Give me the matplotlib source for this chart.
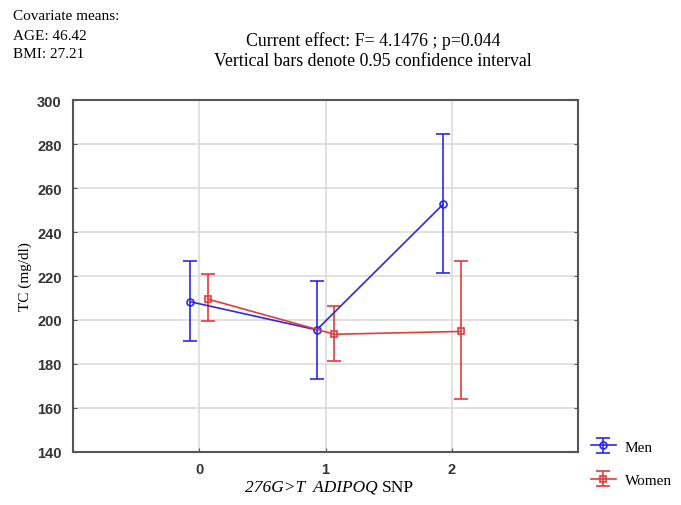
import matplotlib.pyplot as plt
import numpy as np

plt.rcParams['font.family'] = ['Liberation Serif', 'DejaVu Serif']

genotypes = [0, 1, 2]
men_mean = [208.3, 195.5, 252.6]
men_low = [190.3, 173.0, 221.2]
men_high = [226.7, 217.7, 284.8]
women_mean = [209.5, 193.5, 194.8]
women_low = [199.4, 181.5, 164.2]
women_high = [220.9, 206.4, 226.7]

blue = '#2a2ae6'
red = '#e83a3a'

fig = plt.figure(figsize=(6.81, 5.06), dpi=100)
ax = fig.add_axes([0.107, 0.105, 0.742, 0.695])

x = np.array(genotypes, dtype=float)
men_err = [np.array(men_mean) - np.array(men_low), np.array(men_high) - np.array(men_mean)]
women_err = [np.array(women_mean) - np.array(women_low), np.array(women_high) - np.array(women_mean)]

ax.errorbar(x - 0.07, men_mean, yerr=men_err, color=blue, lw=1.2, marker='o', ms=5,
            mfc='none', mew=1.2, capsize=5, capthick=1.2, label='Men')
ax.errorbar(x + 0.07, women_mean, yerr=women_err, color=red, lw=1.2, marker='s', ms=5,
            mfc='none', mew=1.2, capsize=5, capthick=1.2, label='Women')

ax.set_xlim(-1, 3)
ax.set_ylim(140, 300)
ax.set_xticks(genotypes)
ax.set_yticks(np.arange(140, 301, 20))
ax.grid(True, color='#dcdcdc', lw=1.2)
ax.set_axisbelow(True)
for s in ax.spines.values():
    s.set_color('#555555')
    s.set_linewidth(1.5)
ax.tick_params(direction='in', length=3, color='#555555', right=True)
for lab in ax.get_xticklabels() + ax.get_yticklabels():
    lab.set_family(['Liberation Sans', 'DejaVu Sans'])
    lab.set_fontweight('bold')
    lab.set_fontsize(10.5)
    lab.set_color('#333333')
ax.tick_params(axis='x', pad=7)
ax.tick_params(axis='y', pad=8)

ax.set_ylabel('TC (mg/dl)', fontsize=11, labelpad=4)

# x label: italic gene part, upright "SNP"
fig.text(378 / 681, 1 - 488 / 506, '276G>T  ADIPOQ', fontsize=12.5, style='italic',
         ha='right', va='center')
fig.text(382 / 681, 1 - 488 / 506, 'SNP', fontsize=12.5, ha='left', va='center')

fig.text(0.019, 1 - 17 / 506, 'Covariate means:', fontsize=11, va='center')
fig.text(0.019, 1 - 36 / 506, 'AGE: 46.42', fontsize=11, va='center')
fig.text(0.019, 1 - 54 / 506, 'BMI: 27.21', fontsize=11, va='center')
fig.text(0.548, 1 - 41 / 506, 'Current effect: F= 4.1476 ; p=0.044', fontsize=12.8,
         ha='center', va='center')
fig.text(0.548, 1 - 62 / 506, 'Vertical bars denote 0.95 confidence interval', fontsize=12.8,
         ha='center', va='center')

fig.legend(loc='center left', bbox_to_anchor=(0.848, 0.082), frameon=False,
           fontsize=11, handlelength=1.6, labelspacing=1.3, handletextpad=0.6)

fig.savefig('out.png', dpi=100)
